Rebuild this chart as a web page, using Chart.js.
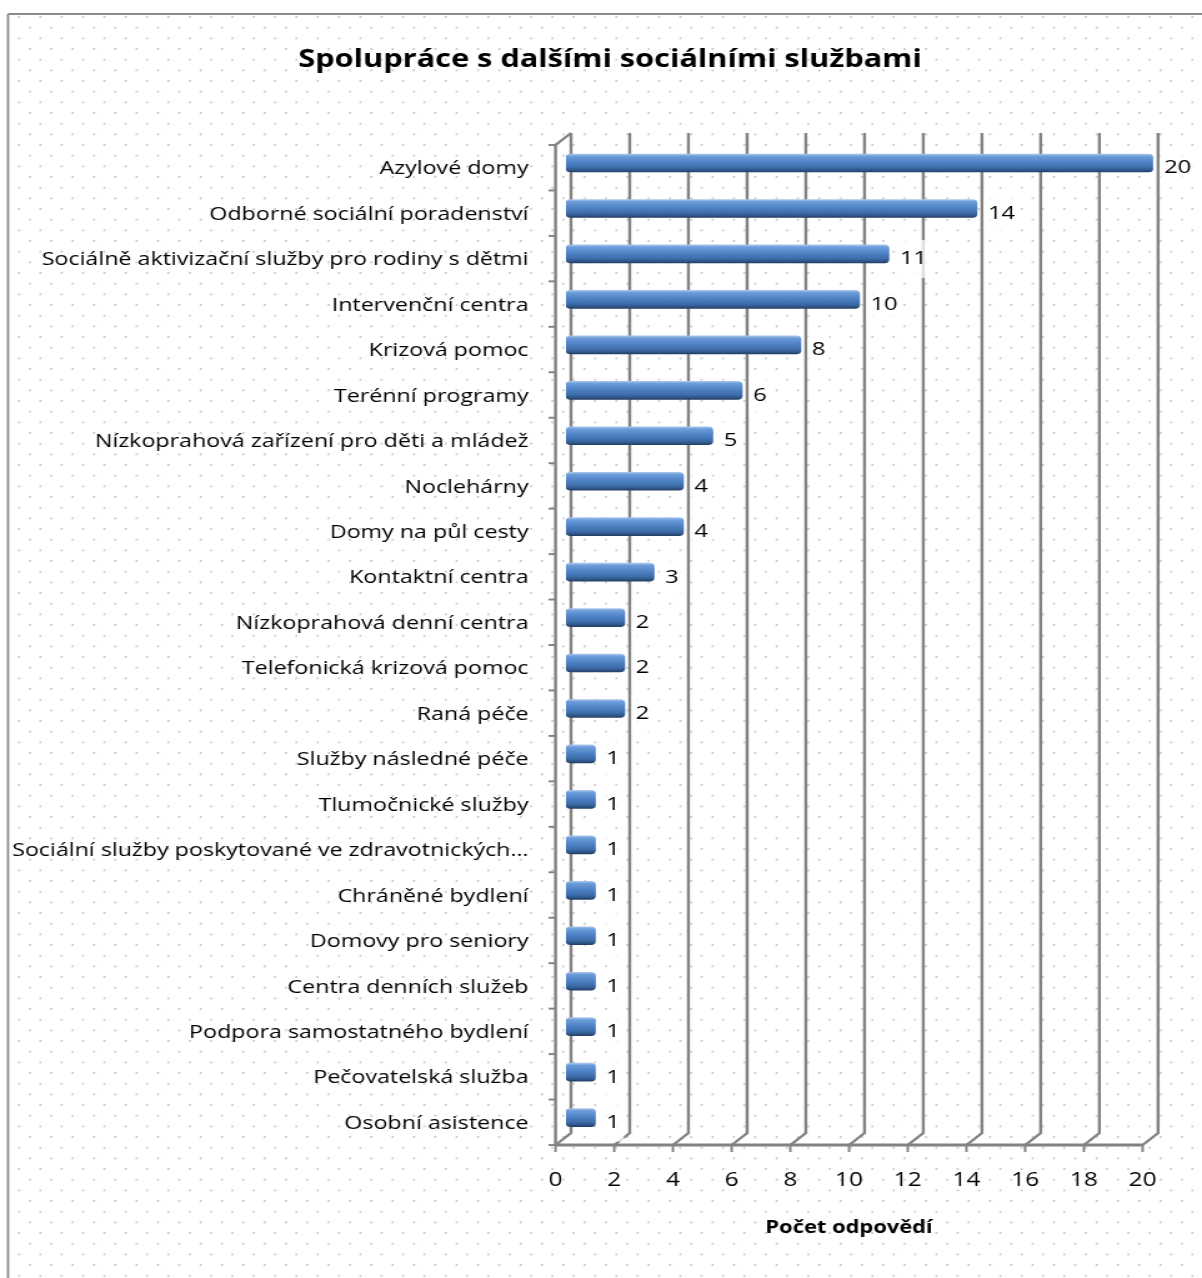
<!DOCTYPE html>
<html>
<head>
<meta charset="utf-8">
<script src="https://cdn.jsdelivr.net/npm/chart.js@4.4.0/dist/chart.umd.min.js"></script>
<style>
  html, body { margin: 0; padding: 0; background: #fff; }
  canvas { display: block; }
</style>
</head>
<body>
<!-- the reference text is drawn wide, so the canvas is drawn narrower and stretched back to 1202px -->
<canvas id="chart" width="962" height="1278" style="width:1202px;height:1278px"></canvas>
<script>
const categories = [
  'Azylové domy',
  'Odborné sociální poradenství',
  'Sociálně aktivizační služby pro rodiny s dětmi',
  'Intervenční centra',
  'Krizová pomoc',
  'Terénní programy',
  'Nízkoprahová zařízení pro děti a mládež',
  'Noclehárny',
  'Domy na půl cesty',
  'Kontaktní centra',
  'Nízkoprahová denní centra',
  'Telefonická krizová pomoc',
  'Raná péče',
  'Služby následné péče',
  'Tlumočnické služby',
  'Sociální služby poskytované ve zdravotnických…',
  'Chráněné bydlení',
  'Domovy pro seniory',
  'Centra denních služeb',
  'Podpora samostatného bydlení',
  'Pečovatelská služba',
  'Osobní asistence'
];
const counts = [20, 14, 11, 10, 8, 6, 5, 4, 4, 3, 2, 2, 2, 1, 1, 1, 1, 1, 1, 1, 1, 1];
const xTickValues = [0, 2, 4, 6, 8, 10, 12, 14, 16, 18, 20];
const chartTitle = 'Spolupráce s dalšími sociálními službami';
const xAxisTitle = 'Počet odpovědí';

const K = 1202 / 962;          // horizontal stretch of the page
const BACK_X = 5 / K;          // back wall gridline shift
const FRONT_X = -10.5 / K;     // front axis shift
const GRID = '#828282';
const FONT = '"Open Sans", sans-serif';

Chart.defaults.font.family = FONT;
Chart.defaults.color = '#000';

function barFill(c) {
  const chart = c.chart;
  const ys = chart.scales.y;
  if (!ys || c.type !== 'data') return '#4f81bd';
  const yc = ys.getPixelForValue(c.dataIndex);
  if (!Number.isFinite(yc)) return '#4f81bd';
  const g = chart.ctx.createLinearGradient(0, yc - 9, 0, yc + 9);
  g.addColorStop(0, '#a9c6ec');
  g.addColorStop(0.12, '#6d9dda');
  g.addColorStop(0.45, '#4f83c6');
  g.addColorStop(0.75, '#3e6daa');
  g.addColorStop(0.9, '#2f5688');
  g.addColorStop(1, '#243f66');
  return g;
}

const wall = {
  id: 'wall',
  beforeDraw(chart) {
    const { ctx, width, height } = chart;
    ctx.save();
    ctx.fillStyle = '#fff';
    ctx.fillRect(0, 0, width, height);
    // dotted background
    ctx.fillStyle = '#cacaca';
    for (let r = 0; ; r++) {
      const y = 16 + r * 10.667;
      if (y > height) break;
      const x0 = r % 2 === 0 ? 18 : 7.7;
      for (let x = x0; x < 1202; x += 21.333) {
        if (x < 11) continue;
        ctx.fillRect(x / K, y, 2 / K, 2);
      }
    }
    // outer frame
    ctx.strokeStyle = '#8c8c8c';
    ctx.lineWidth = 2.2 / K;
    ctx.beginPath();
    ctx.moveTo(8 / K, height);
    ctx.lineTo(8 / K, 14);
    ctx.stroke();
    ctx.lineWidth = 2;
    ctx.beginPath();
    ctx.moveTo(8 / K, 14);
    ctx.lineTo(width, 14);
    ctx.stroke();
    // chart title
    ctx.fillStyle = '#000';
    ctx.font = 'bold 24.6px ' + FONT;
    ctx.textAlign = 'center';
    ctx.textBaseline = 'middle';
    ctx.fillText(chartTitle, 610 / K, 60);
    ctx.restore();
  },
  beforeDatasetsDraw(chart) {
    const { ctx, chartArea: a } = chart;
    const xs = chart.scales.x, ys = chart.scales.y;
    const backTop = a.top - 7.3, backBot = a.bottom - 7.3;
    const frontTop = a.top + 4.7, frontBot = a.bottom + 4.7;
    ctx.save();
    ctx.strokeStyle = GRID;
    ctx.lineWidth = 3 / K;
    xTickValues.forEach(v => {
      const px = xs.getPixelForValue(v);
      ctx.beginPath();
      ctx.moveTo(px + BACK_X, backTop);
      ctx.lineTo(px + BACK_X, backBot);
      ctx.lineTo(px + FRONT_X, frontBot);
      ctx.stroke();
    });
    // front category axis
    const x0 = xs.getPixelForValue(0) + FRONT_X;
    ctx.beginPath();
    ctx.moveTo(xs.getPixelForValue(0) + BACK_X, backTop);
    ctx.lineTo(x0, frontTop);
    ctx.lineTo(x0, frontBot);
    ctx.stroke();
    ctx.lineWidth = 2.4 / K;
    for (let k = 0; k <= categories.length; k++) {
      const y = ys.getPixelForValue(k - 0.5) + 4.7;
      ctx.beginPath();
      ctx.moveTo(x0 - 7 / K, y);
      ctx.lineTo(x0, y);
      ctx.stroke();
    }
    // front value axis
    ctx.lineWidth = 2.8;
    ctx.beginPath();
    ctx.moveTo(x0, frontBot);
    ctx.lineTo(xs.getPixelForValue(20) + FRONT_X, frontBot);
    ctx.stroke();
    ctx.lineWidth = 2.4 / K;
    xTickValues.forEach(v => {
      const px = xs.getPixelForValue(v) + FRONT_X;
      ctx.beginPath();
      ctx.moveTo(px, frontBot);
      ctx.lineTo(px, frontBot + 7);
      ctx.stroke();
    });
    ctx.restore();
  },
  afterDatasetsDraw(chart) {
    const { ctx } = chart;
    const xs = chart.scales.x;
    const meta = chart.getDatasetMeta(0);
    ctx.save();
    ctx.font = '500 19px ' + FONT;
    ctx.textBaseline = 'middle';
    ctx.textAlign = 'left';
    meta.data.forEach((el, i) => {
      const txt = String(counts[i]);
      const tx = el.x + 11 / K;
      const ty = el.y + 5;
      const w = ctx.measureText(txt).width;
      ctx.fillStyle = 'rgba(255,255,255,0.75)';
      ctx.fillRect(tx - 4 / K, ty - 19, w + 8 / K, 38);
      ctx.fillStyle = '#000';
      ctx.fillText(txt, tx, ty);
    });
    // axis title, centred on the front axis
    ctx.font = 'bold 17.5px ' + FONT;
    ctx.textAlign = 'center';
    const cx = (xs.getPixelForValue(0) + xs.getPixelForValue(20)) / 2 + FRONT_X;
    ctx.fillText(xAxisTitle, cx, 1228);
    ctx.restore();
  }
};

new Chart(document.getElementById('chart'), {
  type: 'bar',
  data: {
    labels: categories,
    datasets: [{
      data: counts,
      backgroundColor: barFill,
      borderWidth: 0,
      borderSkipped: false,
      borderRadius: { topLeft: 4, bottomLeft: 4, topRight: 4, bottomRight: 4 },
      barThickness: 18
    }]
  },
  options: {
    indexAxis: 'y',
    responsive: false,
    animation: false,
    events: [],
    layout: { padding: { top: 140.3, right: 962 - 1156 / K, bottom: 0, left: 0 } },
    plugins: {
      legend: { display: false },
      tooltip: { enabled: false },
      title: { display: false }
    },
    scales: {
      x: {
        min: 0,
        max: 20,
        afterBuildTicks: s => { s.ticks = xTickValues.map(v => ({ value: v })); },
        afterFit: s => { s.height = 1278 - 1140.3; },
        grid: { display: false, drawTicks: false },
        border: { display: false },
        ticks: { font: { size: 19.5, weight: '500' }, color: '#000', padding: 28, labelOffset: -10.5 / K }
      },
      y: {
        afterFit: s => { s.width = 566 / K; },
        grid: { display: false, drawTicks: false },
        border: { display: false },
        ticks: { font: { size: 18.6, weight: '500' }, color: '#000', padding: 30, labelOffset: 6, autoSkip: false }
      }
    }
  },
  plugins: [wall]
});
</script>
</body>
</html>
